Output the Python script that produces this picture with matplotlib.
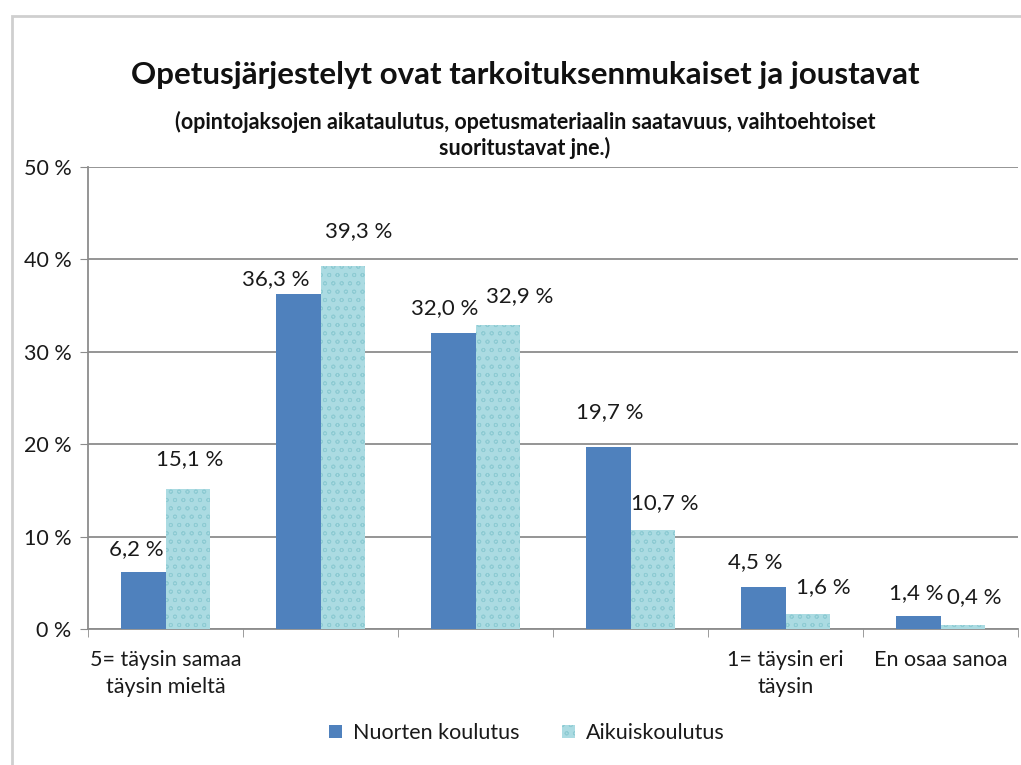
import numpy as np
import matplotlib.pyplot as plt
from matplotlib.patches import Rectangle

plt.rcParams['font.family'] = ['Lato', 'DejaVu Sans']

# data
kategoriat = ["5= täysin samaa\ntäysin mieltä", "", "", "", "1= täysin eri\ntäysin", "En osaa sanoa"]
nuorten = [6.2, 36.3, 32.0, 19.7, 4.5, 1.4]
aikuis = [15.1, 39.3, 32.9, 10.7, 1.6, 0.4]
sarjat = ["Nuorten koulutus", "Aikuiskoulutus"]

# label nudges (pixels) like the hand-placed Excel labels
nuorten_dx = [-7, -23, -9, 1, -8, -2]
nuorten_dy = [23, 14, 25, 35, 25, 23]
aikuis_dx = [2, 16, 22, 12, 16, 12]
aikuis_dy = [30, 35, 29, 27, 27, 28]

sininen = "#4f81bd"
vaalea = "#abdbe2"
teksti = "#1a1a1a"

fig = plt.figure(figsize=(10.21, 7.65), dpi=100)
ax = fig.add_axes([88 / 1021, 1 - 629 / 765, 930 / 1021, 462 / 765])

# chart frame
fig.patches.append(Rectangle((12 / 1021, -0.1), 1.2, 1.1 - 16 / 765, transform=fig.transFigure,
                             fill=False, edgecolor="#cfcfcf", linewidth=2))

x = np.arange(len(kategoriat))
w = 0.285
b1 = ax.bar(x - w / 2, nuorten, w, color=sininen, label=sarjat[0], zorder=3)
plt.rcParams['hatch.linewidth'] = 0.6
b2 = ax.bar(x + w / 2, aikuis, w, color=vaalea, label=sarjat[1], zorder=3,
            hatch="oo", edgecolor="#8ecbd3", linewidth=0)

for i in range(len(x)):
    ax.annotate(f"{nuorten[i]:.1f} %".replace(".", ","), (x[i] - w / 2, nuorten[i]),
                xytext=(nuorten_dx[i], nuorten_dy[i]), textcoords="offset pixels",
                ha="center", va="center", fontsize=16, color=teksti)
    ax.annotate(f"{aikuis[i]:.1f} %".replace(".", ","), (x[i] + w / 2, aikuis[i]),
                xytext=(aikuis_dx[i], aikuis_dy[i]), textcoords="offset pixels",
                ha="center", va="center", fontsize=16, color=teksti)

ax.set_xlim(-0.5, len(x) - 0.5)
ax.set_ylim(0, 50)
ax.set_yticks(np.arange(0, 51, 10))
ax.set_yticklabels([f"{v} %" for v in range(0, 51, 10)], fontsize=15.5, color=teksti)
ax.yaxis.grid(True, color="#8c8c8c", linewidth=1.3, zorder=0)
ax.set_axisbelow(True)

ax.set_xticks(x)
ax.set_xticklabels(kategoriat, fontsize=15.5, linespacing=1.45, color=teksti)
ax.tick_params(axis="x", length=0, pad=15)
ax.set_xticks(np.arange(-0.5, len(x), 1), minor=True)
ax.tick_params(axis="x", which="minor", length=6, color="#8c8c8c", direction="out")
ax.tick_params(axis="y", length=6, color="#8c8c8c", pad=6)

for s in ["top", "right"]:
    ax.spines[s].set_visible(False)
ax.spines["left"].set_color("#8c8c8c")
ax.spines["bottom"].set_color("#8c8c8c")
ax.spines["left"].set_linewidth(1.3)
ax.spines["bottom"].set_linewidth(1.3)

fig.text(525 / 1021, 1 - 75 / 765, "Opetusjärjestelyt ovat tarkoituksenmukaiset ja joustavat",
         ha="center", va="center", fontsize=22.5, fontweight="bold", color="#111111")
fig.text(525 / 1021, 1 - 135 / 765,
         "(opintojaksojen aikataulutus, opetusmateriaalin saatavuus, vaihtoehtoiset\nsuoritustavat jne.)",
         ha="center", va="center", fontsize=15.5, fontweight="bold", color="#111111", linespacing=1.25)

fig.legend(handles=[b1, b2], labels=sarjat, loc="center", bbox_to_anchor=(527 / 1021, 1 - 733 / 765),
           ncol=2, frameon=False, fontsize=15.5, handlelength=0.6, handleheight=0.6,
           columnspacing=2.0, handletextpad=0.5, labelcolor=teksti)

fig.savefig("out.png", dpi=100)
